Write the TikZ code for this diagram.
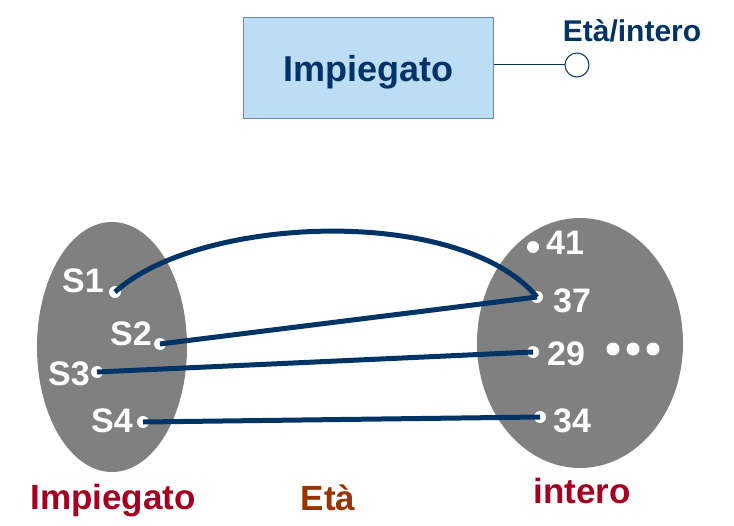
\documentclass[tikz,border=0pt]{standalone}
\usepackage{fontspec}
\setmainfont{Liberation Sans}
\definecolor{navy}{HTML}{003366}
\definecolor{ered}{HTML}{A50021}
\definecolor{ebrown}{HTML}{993300}
\definecolor{boxfill}{HTML}{BDDDF5}
\definecolor{boxline}{HTML}{6A88AE}
\definecolor{setgray}{HTML}{808080}
\begin{document}
\begin{tikzpicture}[x=1bp,y=-1bp,
  entitybox/.style={draw=boxline, line width=1bp, fill=boxfill, minimum width=250bp, minimum height=101bp,
     inner sep=0pt, text=navy, font=\fontsize{36bp}{40bp}\selectfont\bfseries, text height=25.8bp, text depth=0pt},
  attrcirc/.style={circle, draw=navy, line width=1bp, fill=white, minimum size=24bp, inner sep=0pt},
  attrlab/.style={text=navy, font=\fontsize{30bp}{34bp}\selectfont\bfseries, anchor=base, inner sep=0pt},
  elem/.style={circle, fill=white, minimum size=12bp, inner sep=0pt},
  elemlab/.style={text=white, font=\fontsize{34bp}{36bp}\selectfont\bfseries, anchor=base, inner sep=0pt},
  setlab/.style={font=\fontsize{35bp}{38bp}\selectfont\bfseries, anchor=base, inner sep=0pt},
  link/.style={draw=navy, line width=5bp},
]
\useasboundingbox (0,0) rectangle (734,526);
% top schema
\node[entitybox] (box) at (368.5,68.5) {Impiegato};
\node[attrcirc] (att) at (577,65) {};
\draw[navy, line width=1bp] (box.east |- att) -- (att.west);
\node[attrlab] (attlab) at (632,42) {Età/intero};
% sets
\fill[setgray] (112,347) ellipse [x radius=75, y radius=125];
\fill[setgray] (580,343) ellipse [x radius=103, y radius=125];
% element dots
\node[elem] (d1) at (115,292) {};
\node[elem] (d2) at (160,344) {};
\node[elem] (d3) at (97,372) {};
\node[elem] (d4) at (143,422) {};
\node[elem] (e41) at (533,247) {};
\node[elem] (e37) at (537,297) {};
\node[elem] (e29) at (533,352) {};
\node[elem] (e34) at (540,417) {};
\node[elem, minimum size=13bp] (m1) at (613,349) {};
\node[elem, minimum size=13bp] (m2) at (633,349) {};
\node[elem, minimum size=13bp] (m3) at (653,349) {};
% labels
\node[elemlab] (l1) at (83,293) {S1};
\node[elemlab] (l2) at (131,345) {S2};
\node[elemlab] (l3) at (69,385) {S3};
\node[elemlab] (l4) at (112,432) {S4};
\node[elemlab] (l41) at (565,255) {41};
\node[elemlab] (l37) at (572,312) {37};
\node[elemlab] (l29) at (566,365) {29};
\node[elemlab] (l34) at (572,432) {34};
% links
\draw[link] (d1.center) .. controls (200,215) and (460,205) .. (e37.center);
\draw[link] (d2.center) -- (e37.center);
\draw[link] (d3.center) -- (e29.center);
\draw[link] (d4.center) -- (e34.center);
% set names
\node[setlab, text=ered] (n1) at (113,509) {Impiegato};
\node[setlab, text=ebrown] (n2) at (328,510) {Età};
\node[setlab, text=ered] (n3) at (582,503) {intero};
\end{tikzpicture}
\end{document}
